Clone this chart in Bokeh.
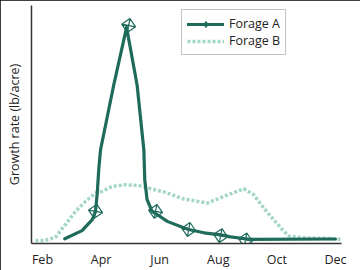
import math
from bokeh.plotting import figure
from bokeh.models import (FixedTicker, Range1d, Legend, LegendItem)
from bokeh.embed import file_html
from bokeh.resources import INLINE

# ---- data (month number on x, relative growth rate 0-100 on y)
month_ticks = [2, 4, 6, 8, 10, 12]
month_labels = ["Feb", "Apr", "Jun", "Aug", "Oct", "Dec"]

forage_a_month = [2.76, 3.35, 3.70, 3.81, 3.87, 3.92, 3.98, 4.43, 4.87, 5.23, 5.46,
                  5.49, 5.57, 5.74, 5.86, 6.26, 6.82, 6.99, 7.51, 8.08, 8.42, 8.93,
                  9.10, 12.00]
forage_a_rate = [2.0, 5.4, 10.0, 13.5, 21.3, 31.0, 39.3, 66.5, 90.8, 66.5, 39.3,
                 26.8, 18.4, 13.5, 12.6, 9.3, 6.6, 5.9, 4.5, 3.6, 2.8, 2.0,
                 1.7, 1.9]

marker_a_month = [3.81, 4.94, 5.86, 6.99, 8.08, 8.93]
marker_a_rate = [13.5, 91.6, 13.5, 5.9, 3.3, 1.5]

forage_b_month = [1.76, 2.10, 2.44, 2.78, 3.13, 3.47, 3.81, 4.04, 4.38, 4.83, 5.29,
                  5.74, 6.20, 6.82, 7.62, 8.19, 8.87, 9.21, 9.55, 9.89, 10.18,
                  10.41, 10.92, 11.83, 12.23]
forage_b_rate = [1.3, 1.3, 2.6, 7.9, 13.5, 17.7, 21.2, 21.9, 24.0, 24.7, 24.3,
                 22.9, 21.5, 18.7, 17.0, 19.8, 23.0, 20.5, 14.9, 10.0, 5.9,
                 3.1, 2.4, 2.1, 1.7]

DARK = "#1f6b5b"
LIGHT = "#a3d5c8"
FONT = "Open Sans"

p = figure(width=360, height=270, output_backend="svg", toolbar_location=None,
           x_range=Range1d(1.625, 12.205), y_range=Range1d(0, 100),
           min_border_left=31, min_border_right=19, min_border_top=5,
           min_border_bottom=26)
p.outline_line_color = None
p.grid.visible = False
p.background_fill_color = "white"
p.border_fill_color = "white"
p.styles = {"outline": "2px solid black", "outline-offset": "-2px"}

# x axis
xa = p.xaxis[0]
xa.ticker = FixedTicker(ticks=month_ticks)
xa.major_label_overrides = {t: l for t, l in zip(month_ticks, month_labels)}
xa.major_tick_in = 0
xa.major_tick_out = 0
xa.minor_tick_in = 0
xa.minor_tick_out = 0
xa.major_label_standoff = 7
xa.major_label_text_font = FONT
xa.major_label_text_font_size = "12.5px"
xa.major_label_text_color = "#222222"
xa.axis_line_color = "#333333"
xa.axis_line_width = 1.5

# y axis
ya = p.yaxis[0]
ya.ticker = FixedTicker(ticks=[])
ya.major_tick_in = 0
ya.major_tick_out = 0
ya.minor_tick_in = 0
ya.minor_tick_out = 0
ya.major_label_standoff = 0
ya.axis_label = "Growth rate (lb/acre)"
ya.axis_label_standoff = 9
ya.axis_label_text_font = FONT
ya.axis_label_text_font_size = "12.5px"
ya.axis_label_text_font_style = "normal"
ya.axis_label_text_color = "#222222"
ya.axis_line_color = "#333333"
ya.axis_line_width = 1.5

# series
rb = p.line(forage_b_month, forage_b_rate, line_color=LIGHT, line_width=3.5,
            line_dash="3 2")
ra = p.line(forage_a_month, forage_a_rate, line_color=DARK, line_width=3.2,
            line_join="round", line_cap="round")
rm = p.scatter(marker_a_month, marker_a_rate, marker="square_x", size=10,
               angle=0.6, fill_color=None, line_color=DARK, line_width=1.2)
# legend-only marker (placed outside the visible range)
rlegm = p.scatter([-10], [-10], marker="diamond_cross", size=13,
                  fill_color=None, line_color=DARK, line_width=1.2)

legend = Legend(items=[LegendItem(label="Forage A", renderers=[ra, rlegm]),
                       LegendItem(label="Forage B", renderers=[rb])],
                location=(150, 188))
legend.label_text_font = FONT
legend.label_text_font_size = "12.5px"
legend.label_text_color = "#222222"
legend.border_line_color = "#888888"
legend.border_line_width = 1.5
legend.glyph_width = 37
legend.glyph_height = 14
legend.label_height = 14
legend.label_standoff = 5
legend.spacing = 0
legend.padding = 5
legend.margin = 0
legend.background_fill_color = "white"
legend.background_fill_alpha = 1
p.add_layout(legend, "center")

open("out.html", "w").write(file_html(p, INLINE))
